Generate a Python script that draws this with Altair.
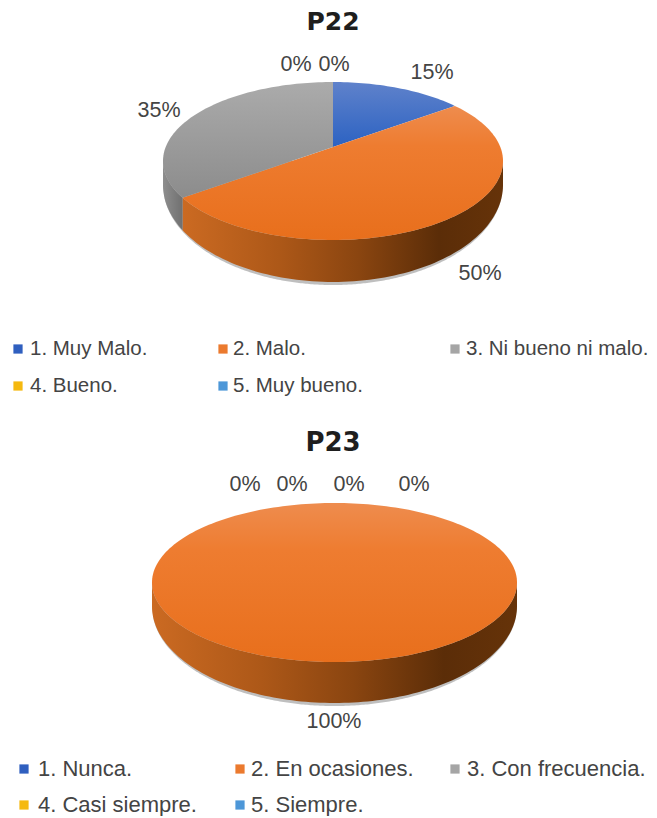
import math
import altair as alt
import pandas as pd

# ---- values ----
p22_title = "P22"
p22_categories = ["1. Muy Malo.", "2. Malo.", "3. Ni bueno ni malo.", "4. Bueno.", "5. Muy bueno."]
p22_values = [15, 50, 35, 0, 0]
p22_labels = ["15%", "50%", "35%", "0%", "0%"]

p23_title = "P23"
p23_categories = ["1. Nunca.", "2. En ocasiones.", "3. Con frecuencia.", "4. Casi siempre.", "5. Siempre."]
p23_values = [0, 100, 0, 0, 0]
p23_labels = ["0%", "100%", "0%", "0%", "0%"]

# ---- layout and style (page pixels) ----
W, H = 641, 802
XS = alt.Scale(domain=[8, 8 + W], range=[0, W])
YS = alt.Scale(domain=[8 + H, 8], range=[H, 0])
X = alt.X("x:Q", scale=XS, axis=None)
Y = alt.Y("y:Q", scale=YS, axis=None)
FONT = "Liberation Sans"
TXT = "#444444"
LEG = ["#2F5FBF", "#EB7A2E", "#A5A5A5", "#F5B90F", "#4D97D8"]


def vgrad(stops):
    return {"gradient": "linear", "x1": 0, "y1": 0, "x2": 0, "y2": 1,
            "stops": [{"offset": o, "color": c} for o, c in stops]}


def hgrad(stops):
    return {"gradient": "linear", "x1": 0, "y1": 0, "x2": 1, "y2": 0,
            "stops": [{"offset": o, "color": c} for o, c in stops]}


FACE = [vgrad([(0, "#5F82CB"), (1, "#2C62C2")]),
        vgrad([(0, "#EE8C4E"), (0.3, "#EE7C30"), (1, "#E86F1C")]),
        vgrad([(0, "#ABABAB"), (1, "#8C8C8C")]),
        vgrad([(0, "#F5B90F"), (1, "#E5A800")]),
        vgrad([(0, "#4D97D8"), (1, "#3D87C8")])]
WALL_ORANGE = [(0, "#CB6A22"), (0.3, "#AD5818"), (0.55, "#8A4510"), (0.8, "#5B2D08"), (1, "#663309")]
WALL_GREY = [(0, "#8E8E8E"), (1, "#707070")]


def rim_point(g, deg):
    a = math.radians(deg)
    off = g["off"] / g["ry"]
    k = g["ry"] / g["rx"]
    dx = math.sin(a) / g["rx"]
    dy = -k * math.cos(a) / g["ry"]
    A = dx * dx + dy * dy
    B = 2 * off * dy
    C = off * off - 1
    t = (-B + math.sqrt(B * B - 4 * A * C)) / (2 * A)
    return g["cx"] + t * math.sin(a), g["cy"] + g["off"] + t * (-k * math.cos(a))


def bottom_y(g, x_, extra=0):
    u = max(-1, min(1, (x_ - g["cx"]) / g["rx"]))
    return g["cy"] + g["d0"] + (g["ry"] + g["depth"] - g["d0"] + extra) * math.sqrt(1 - u * u)


def polygon(pts, fill, opacity=1):
    df = pd.DataFrame({"x": [p[0] for p in pts], "y": [p[1] for p in pts], "o": list(range(len(pts)))})
    return alt.Chart(df).mark_line(fill=fill, stroke=None, strokeWidth=0, fillOpacity=opacity).encode(
        x=X, y=Y, order="o:Q")


def pie_layers(values, g):
    layers = []
    # soft shadow under the wall
    sweep_x = [g["cx"] + g["rx"] * i / 100 for i in range(-100, 101)]
    shadow_top = [(x_, g["cy"]) for x_ in sweep_x]
    shadow_bot = [(x_, bottom_y(g, x_, 3)) for x_ in reversed(sweep_x)]
    layers.append(polygon(shadow_top + shadow_bot, "#8A8A8A", 0.55))

    # walls and faces, slice by slice
    start = 0.0
    faces = []
    total = sum(values)
    for idx, v in enumerate(values):
        if v == 0:
            continue
        sweep = 360.0 * v / total
        n = max(2, int(sweep / 1.5))
        rim = [rim_point(g, start + sweep * j / n) for j in range(n + 1)]
        apex = (g["cx"], g["cy"] + g["off"])
        pts = rim if v == total else [apex] + rim + [apex]
        faces.append(polygon(pts, FACE[idx]))

        # front wall: rim points in the lower half of the ellipse
        front = sorted([p for p in rim if p[1] >= g["cy"]], key=lambda p: p[0])
        if front:
            stops = WALL_ORANGE if idx == 1 else WALL_GREY
            wall = front + [(x_, bottom_y(g, x_)) for x_, _ in reversed(front)]
            layers.append(polygon(wall, hgrad(stops)))
        start += sweep
    return layers + faces


def text_layer(rows, size, weight="normal", color=TXT, align="center", font=FONT):
    return alt.Chart(pd.DataFrame(rows)).mark_text(
        font=font, fontSize=size, fontWeight=weight, color=color, align=align, baseline="middle"
    ).encode(x=X, y=Y, text="t:N")


def legend_layers(cats, slots, size):
    sq = [{"x": s[0], "y": s[1], "c": LEG[i]} for i, s in enumerate(slots)]
    tx = [{"x": s[2], "y": s[1], "t": cats[i]} for i, s in enumerate(slots)]
    return [
        alt.Chart(pd.DataFrame(sq)).mark_square(size=85, opacity=1).encode(
            x=X, y=Y, color=alt.Color("c:N", scale=None)),
        text_layer(tx, size, align="left"),
    ]


G22 = {"cx": 333, "cy": 161, "rx": 170, "ry": 79, "off": -14, "depth": 42, "d0": 24}
G23 = {"cx": 334.5, "cy": 582.5, "rx": 182.5, "ry": 79.5, "off": 0, "depth": 41, "d0": 24}

P22_LABEL_POS = [(432, 73), (480, 274), (159, 111), (296, 65), (334, 65)]
P23_LABEL_POS = [(245, 485), (334, 722), (292, 485), (349, 485), (414, 485)]
P22_LEGEND = [(18, 349, 30), (223, 349, 233), (455, 349, 466), (18, 386, 30), (223, 386, 233)]
P23_LEGEND = [(24, 769, 38), (240, 769, 251), (455, 769, 467), (24, 805, 38), (240, 805, 251)]

layers = []
layers += pie_layers(p22_values, G22)
layers += pie_layers(p23_values, G23)
layers.append(text_layer([{"x": 333, "y": 22, "t": p22_title}], 25, weight="bold", color="#1E1E1E",
                         font="DejaVu Sans"))
layers.append(text_layer([{"x": 333, "y": 443, "t": p23_title}], 26, weight="bold", color="#1E1E1E",
                         font="DejaVu Sans"))
layers.append(text_layer(
    [{"x": p[0], "y": p[1], "t": t} for p, t in zip(P22_LABEL_POS, p22_labels)] +
    [{"x": p[0], "y": p[1], "t": t} for p, t in zip(P23_LABEL_POS, p23_labels)], 21.5))
layers += legend_layers(p22_categories, P22_LEGEND, 20.5)
layers += legend_layers(p23_categories, P23_LEGEND, 22)

chart = alt.layer(*layers).properties(
    width=W, height=H, padding={"left": 0, "top": 0, "right": 0, "bottom": 6},
    autosize=alt.AutoSizeParams(type="none")
).configure_view(stroke=None).resolve_scale(color="independent")

chart.save("out.html", embed_options={"renderer": "svg", "actions": False})
